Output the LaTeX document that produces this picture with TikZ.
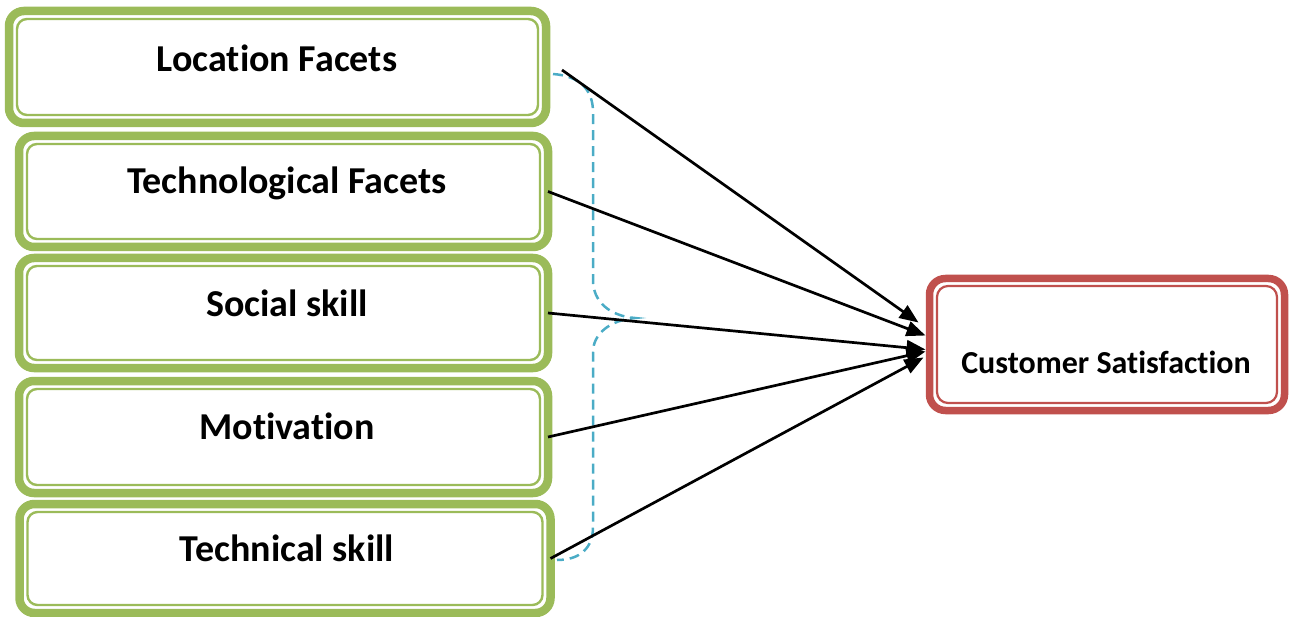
\documentclass[tikz,border=0pt]{standalone}
\usepackage{fontspec}
\setmainfont{Carlito}[Ligatures=NoCommon]
\usetikzlibrary{arrows.meta}
\definecolor{gboxc}{HTML}{9BBB59}
\definecolor{rboxc}{HTML}{C0504D}
\definecolor{bbracec}{HTML}{4BACC6}
\newcommand{\nolig}{\kern0pt}
\tikzset{
  outerg/.style={draw=gboxc, line width=8.5pt, rounded corners=15pt, outer sep=0pt, inner sep=0pt, fill=white},
  innerg/.style={draw=gboxc, line width=2.4pt, rounded corners=10pt, outer sep=0pt, inner sep=0pt},
  outerr/.style={draw=rboxc, line width=7.5pt, rounded corners=16pt, outer sep=0pt, inner sep=0pt, fill=white},
  innerr/.style={draw=rboxc, line width=2.2pt, rounded corners=11pt, outer sep=0pt, inner sep=0pt},
  lbl/.style={font=\fontsize{38}{44}\selectfont\bfseries, anchor=base, inner sep=0pt},
  lblr/.style={font=\fontsize{32}{36}\selectfont\bfseries, anchor=base, inner sep=0pt},
  conn/.style={black, line width=2.7pt, -{Triangle[length=19pt,width=15pt]}},
  bracestyle/.style={draw=bbracec, line width=2.5pt, dash pattern=on 10pt off 6pt}
}
\begin{document}
\begin{tikzpicture}[x=1pt,y=-1pt]
\useasboundingbox (0,0) rectangle (1295,617);
% green boxes
\node[outerg, minimum width=537pt, minimum height=112pt] (b1) at (277.5,67) {};
\node[innerg, minimum width=521pt, minimum height=96pt] (b1in) at (277.5,67) {};
\node[outerg, minimum width=529pt, minimum height=111pt] (b2) at (283.5,191.5) {};
\node[innerg, minimum width=513pt, minimum height=95pt] (b2in) at (283.5,191.5) {};
\node[outerg, minimum width=529pt, minimum height=110pt] (b3) at (283.5,313) {};
\node[innerg, minimum width=513pt, minimum height=94pt] (b3in) at (283.5,313) {};
\node[outerg, minimum width=529pt, minimum height=112pt] (b4) at (283.5,437) {};
\node[innerg, minimum width=513pt, minimum height=96pt] (b4in) at (283.5,437) {};
\node[outerg, minimum width=531pt, minimum height=109pt] (b5) at (285,558.5) {};
\node[innerg, minimum width=515pt, minimum height=93pt] (b5in) at (285,558.5) {};
% labels
\node[lbl] (t1) at (277,72) {Locat\nolig ion Facets};
\node[lbl] (t2) at (287,194) {Technological Facets};
\node[lbl] (t3) at (287,317) {Social skill};
\node[lbl] (t4) at (287,439) {Motivat\nolig ion};
\node[lbl] (t5) at (287,561) {Technical skill};
% red box
\node[outerr, minimum width=355pt, minimum height=132pt] (cs) at (1107,344.5) {};
\node[innerr, minimum width=340pt, minimum height=117pt] (csin) at (1107,344.5) {};
\node[lblr] (tcs) at (1106,373) {Customer Sat\nolig isfact\nolig ion};
% brace
\draw[bracestyle] (553,74) .. controls (580,76) and (593,90) .. (593,112) -- (593,280)
  .. controls (593,302) and (610,316) .. (635,318)
  .. controls (610,320) and (593,334) .. (593,352) -- (593,527)
  .. controls (593,548) and (580,560) .. (557,560);
% connectors
\draw[conn] ([xshift=16pt,yshift=-3pt]b1.east) -- ([xshift=-11pt,yshift=22pt]cs.west);
\draw[conn] (b2.east) -- ([xshift=-4pt,yshift=9pt]cs.west);
\draw[conn] (b3.east) -- ([xshift=-4pt,yshift=-5pt]cs.west);
\draw[conn] (b4.east) -- ([xshift=-4pt,yshift=-7pt]cs.west);
\draw[conn] (b5.east) -- ([xshift=-6pt,yshift=-13pt]cs.west);
\end{tikzpicture}
\end{document}
